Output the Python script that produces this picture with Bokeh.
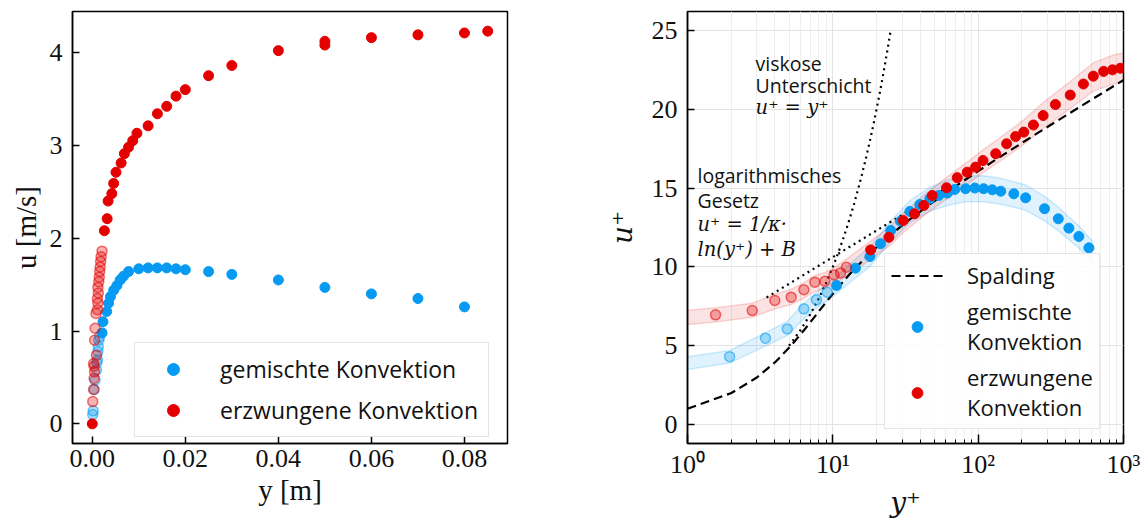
from bokeh.plotting import figure
from bokeh.models import (ColumnDataSource, FixedTicker, PrintfTickFormatter,
                          CustomJSTickFormatter, Label, Range1d)
from bokeh.layouts import row
from bokeh.embed import file_html
from bokeh.resources import INLINE

BLUE = "#069af3"
RED = "#e50000"

# ---------------- left panel: u over y ----------------
mixed_wall_y = [0.0001, 0.0002, 0.0004, 0.0006, 0.0009, 0.0010, 0.0011, 0.0012, 0.0013, 0.0014, 0.0016]
mixed_wall_u = [0.10, 0.14, 0.37, 0.47, 0.58, 0.66, 0.69, 0.78, 0.83, 0.90, 0.94]
mixed_y = [0.0021, 0.0023, 0.0031, 0.0035, 0.0039, 0.0046, 0.0053, 0.0060, 0.0067, 0.0078,
           0.010, 0.012, 0.014, 0.016, 0.018, 0.020, 0.025, 0.030, 0.040, 0.050, 0.060, 0.070, 0.080]
mixed_u = [0.98, 1.10, 1.21, 1.30, 1.37, 1.44, 1.49, 1.55, 1.59, 1.64,
           1.67, 1.68, 1.68, 1.68, 1.67, 1.66, 1.64, 1.61, 1.55, 1.47, 1.40, 1.35, 1.26]

forced_wall_y = [0.0001, 0.0003, 0.0004, 0.0005, 0.0004, 0.0003, 0.0009, 0.0005, 0.0006, 0.0008, 0.0011,
                 0.0012, 0.0011, 0.0013, 0.0012, 0.0014, 0.0015, 0.0016, 0.0017, 0.0018, 0.0019, 0.0021]
forced_wall_u = [0.24, 0.37, 0.49, 0.56, 0.62, 0.65, 0.74, 0.90, 1.03, 1.19, 1.23,
                 1.30, 1.35, 1.41, 1.47, 1.53, 1.58, 1.64, 1.69, 1.75, 1.80, 1.86]
forced_y = [0.0, 0.0026, 0.0032, 0.0034, 0.0042, 0.0046, 0.0051, 0.0062, 0.0069, 0.0078, 0.0087, 0.0096,
            0.012, 0.014, 0.016, 0.018, 0.020, 0.025, 0.030, 0.040, 0.050, 0.050, 0.060, 0.070, 0.080, 0.085]
forced_u = [0.0, 2.08, 2.21, 2.40, 2.48, 2.59, 2.71, 2.81, 2.91, 2.98, 3.05, 3.13,
            3.21, 3.34, 3.42, 3.53, 3.60, 3.75, 3.86, 4.02, 4.08, 4.12, 4.16, 4.19, 4.21, 4.23]

left_xticks = [0.0, 0.02, 0.04, 0.06, 0.08]
left_yticks = [0, 1, 2, 3, 4]

# ---------------- right panel: u+ over y+ ----------------
mixed_wall_yp = [1.95, 3.44, 4.86, 6.32, 7.72, 9.15]
mixed_wall_up = [4.31, 5.48, 6.07, 7.34, 7.91, 8.40]
mixed_yp = [10.6, 14.3, 18.0, 21.3, 25.0, 29.2, 33.9, 39.7, 46.5, 53.6, 61.3, 69.1, 81.9, 94.9,
            109, 125, 143, 176, 212, 286, 356, 421, 493, 578]
mixed_up = [8.82, 9.92, 10.66, 11.47, 12.31, 12.90, 13.52, 13.96, 14.32, 14.53, 14.68, 14.91, 14.96, 15.00,
            14.96, 14.89, 14.80, 14.64, 14.38, 13.69, 13.05, 12.46, 11.93, 11.21]

forced_wall_yp = [1.56, 2.79, 3.99, 5.17, 6.32, 7.52, 8.81, 10.2, 11.3, 12.4]
forced_wall_up = [6.96, 7.23, 7.87, 8.08, 8.55, 9.03, 9.09, 9.49, 9.62, 9.98]
forced_yp = [18.2, 24.3, 30.5, 36.5, 42.3, 48.3, 60.6, 71.8, 84.1, 96.0, 108, 132, 157, 181, 206,
             240, 280, 340, 430, 530, 620, 730, 840, 950]
forced_up = [11.08, 11.88, 12.94, 13.37, 13.90, 14.53, 15.02, 15.66, 16.01, 16.33, 16.75, 17.18, 17.81, 18.27, 18.55,
             19.0, 19.6, 20.3, 20.9, 21.6, 22.1, 22.4, 22.5, 22.6]

forced_band_yp = [1.0, 1.56, 2.79, 3.99, 5.17, 6.32, 7.52, 8.81, 10.2, 12.4, 18.2, 24.3, 30.5, 42.3,
                  60.6, 84.1, 108, 157, 206, 280, 430, 620, 840, 1000]
forced_band_mid = [6.8, 6.96, 7.25, 7.8, 8.1, 8.5, 8.95, 9.15, 9.45, 9.95, 11.05, 11.9, 12.8, 13.9,
                   15.0, 15.95, 16.7, 17.75, 18.55, 19.6, 20.9, 22.05, 22.5, 22.65]
forced_band_half = [0.45, 0.45, 0.45, 0.47, 0.48, 0.5, 0.5, 0.5, 0.52, 0.55, 0.58, 0.6, 0.62, 0.65,
                    0.68, 0.7, 0.72, 0.75, 0.78, 0.82, 0.86, 0.9, 0.92, 0.93]

mixed_band_yp = [1.0, 1.95, 3.44, 4.86, 6.32, 7.72, 9.15, 10.6, 14.3, 18.0, 25.0, 33.9, 46.5, 61.3,
                 81.9, 109, 143, 212, 286, 356, 421, 493, 578, 620]
mixed_band_mid = [3.9, 4.3, 5.4, 6.1, 7.2, 7.9, 8.4, 8.85, 9.9, 10.65, 12.25, 13.5, 14.3, 14.7,
                  14.95, 14.96, 14.8, 14.4, 13.7, 13.05, 12.45, 11.9, 11.2, 10.9]
mixed_band_half = [0.4, 0.4, 0.42, 0.45, 0.48, 0.5, 0.52, 0.55, 0.6, 0.62, 0.65, 0.7, 0.75, 0.8,
                   0.82, 0.82, 0.82, 0.8, 0.78, 0.75, 0.72, 0.7, 0.68, 0.66]

# Spalding law (kappa = 0.41, B = 5.0), tabulated
spalding_yp = [1.0002, 2.003, 3.016, 4.056, 5.152, 6.352, 7.015, 7.735, 8.53, 9.42, 10.43, 11.6, 12.95,
               14.55, 16.45, 18.72, 21.45, 24.76, 33.67, 46.98, 66.98, 97.1, 142.5, 211.2, 314.8,
               471.2, 707.4, 1063.7]
spalding_up = [1.0, 2.0, 3.0, 4.0, 5.0, 6.0, 6.5, 7.0, 7.5, 8.0, 8.5, 9.0, 9.5,
               10.0, 10.5, 11.0, 11.5, 12.0, 13.0, 14.0, 15.0, 16.0, 17.0, 18.0, 19.0,
               20.0, 21.0, 22.0]

# viscous sublayer u+ = y+
viscous_yp = [5, 6, 7, 8, 9, 10, 11, 12, 13, 14, 15, 16, 17, 18, 19, 20, 21, 22, 23, 24, 25]
viscous_up = [5, 6, 7, 8, 9, 10, 11, 12, 13, 14, 15, 16, 17, 18, 19, 20, 21, 22, 23, 24, 25]

# log law (straight line on log axis)
loglaw_yp = [3.5, 60.0]
loglaw_up = [8.06, 14.99]

right_yticks = [0, 5, 10, 15, 20, 25]
right_xticks = [1, 10, 100, 1000]
right_xminor = [m * d for d in (1, 10, 100) for m in range(2, 10)]

TICK_FONT = "Liberation Serif"
SANS = "Open Sans"


def style_axes(p):
    p.outline_line_color = "black"
    p.outline_line_width = 1.5
    p.outline_line_alpha = 1.0
    p.background_fill_color = "white"
    p.border_fill_color = "white"
    for ax in (p.xaxis[0], p.yaxis[0]):
        ax.major_tick_in = 7
        ax.major_tick_out = 0
        ax.minor_tick_in = 0
        ax.minor_tick_out = 0
        ax.axis_line_width = 1.5
        ax.axis_line_color = "black"
        ax.major_tick_line_width = 1.5
        ax.major_tick_line_color = "black"
        ax.major_label_text_font = TICK_FONT
        ax.major_label_text_font_size = "26px"
        ax.major_label_text_color = "#111111"
        ax.axis_label_text_color = "#111111"
        ax.axis_label_text_font_style = "normal"
    p.xaxis[0].major_label_standoff = 6
    p.yaxis[0].major_label_standoff = 10
    p.xaxis[0].axis_label_standoff = 4


# ---------------- left figure ----------------
p1 = figure(frame_width=435, frame_height=432,
            min_border_left=72, min_border_right=93, min_border_top=11, min_border_bottom=74,
            x_range=Range1d(-0.00425, 0.08925), y_range=Range1d(-0.2115, 4.4415),
            output_backend="svg", toolbar_location=None)
style_axes(p1)
p1.grid.visible = False
p1.xaxis[0].ticker = FixedTicker(ticks=left_xticks)
p1.xaxis[0].formatter = PrintfTickFormatter(format="%.2f")
p1.yaxis[0].ticker = FixedTicker(ticks=left_yticks)
p1.xaxis[0].axis_label = "y [m]"
p1.yaxis[0].axis_label = "u [m/s]"
for ax in (p1.xaxis[0], p1.yaxis[0]):
    ax.axis_label_text_font = TICK_FONT
    ax.axis_label_text_font_size = "29px"
p1.yaxis[0].axis_label_standoff = 5

src_mw = ColumnDataSource(dict(x=mixed_wall_y, y=mixed_wall_u))
src_m = ColumnDataSource(dict(x=mixed_y, y=mixed_u))
src_fw = ColumnDataSource(dict(x=forced_wall_y, y=forced_wall_u))
src_f = ColumnDataSource(dict(x=forced_y, y=forced_u))

p1.scatter("x", "y", source=src_mw, size=10, fill_color=BLUE, fill_alpha=0.3,
           line_color=BLUE, line_alpha=0.55, line_width=1.5)
p1.scatter("x", "y", source=src_m, size=10, fill_color=BLUE, line_color=BLUE,
           legend_label="gemischte Konvektion")
p1.scatter("x", "y", source=src_fw, size=10, fill_color=RED, fill_alpha=0.3,
           line_color=RED, line_alpha=0.55, line_width=1.5)
p1.scatter("x", "y", source=src_f, size=10, fill_color=RED, line_color=RED,
           legend_label="erzwungene Konvektion")

lg1 = p1.legend[0]
lg1.location = (62, 6)
lg1.margin = 0
lg1.padding = 10
lg1.spacing = 9
lg1.glyph_width = 56
lg1.glyph_height = 30
lg1.label_height = 30
lg1.label_standoff = 19
lg1.label_text_font = SANS
lg1.label_text_font_size = "23px"
lg1.label_text_color = "#111111"
lg1.border_line_color = "#cccccc"
lg1.border_line_width = 1.5
lg1.background_fill_alpha = 0.85

# ---------------- right figure ----------------
p2 = figure(frame_width=436, frame_height=432, x_axis_type="log",
            min_border_left=87, min_border_right=18, min_border_top=11, min_border_bottom=74,
            x_range=Range1d(1, 1000), y_range=Range1d(-1.2, 26.2),
            output_backend="svg", toolbar_location=None)
style_axes(p2)
p2.xaxis[0].ticker = FixedTicker(ticks=right_xticks, minor_ticks=right_xminor)
p2.xaxis[0].formatter = CustomJSTickFormatter(code="""
const sup = {"0": "\u2070", "1": "\u00b9", "2": "\u00b2", "3": "\u00b3"};
const e = Math.round(Math.log10(tick));
return "10" + (sup[String(e)] || String(e));
""")
p2.xaxis[0].major_tick_in = 9
p2.xaxis[0].minor_tick_in = 4
p2.xaxis[0].minor_tick_line_width = 1
p2.xaxis[0].minor_tick_line_color = "black"
p2.yaxis[0].ticker = FixedTicker(ticks=right_yticks)
p2.xgrid.grid_line_color = "#e3e3e3"
p2.xgrid.minor_grid_line_color = "#eeeeee"
p2.ygrid.grid_line_color = "#e3e3e3"
p2.xaxis[0].axis_label = "y\u207a"
p2.yaxis[0].axis_label = "u\u207a"
for ax in (p2.xaxis[0], p2.yaxis[0]):
    ax.axis_label_text_font = "DejaVu Serif"
    ax.axis_label_text_font_style = "italic"
    ax.axis_label_text_font_size = "28px"
p2.yaxis[0].axis_label_standoff = 10

fb_lo = [m - h for m, h in zip(forced_band_mid, forced_band_half)]
fb_hi = [m + h for m, h in zip(forced_band_mid, forced_band_half)]
mb_lo = [m - h for m, h in zip(mixed_band_mid, mixed_band_half)]
mb_hi = [m + h for m, h in zip(mixed_band_mid, mixed_band_half)]
src_fb = ColumnDataSource(dict(x=forced_band_yp, lo=fb_lo, hi=fb_hi))
src_mb = ColumnDataSource(dict(x=mixed_band_yp, lo=mb_lo, hi=mb_hi))

p2.varea(x="x", y1="lo", y2="hi", source=src_mb, fill_color=BLUE, fill_alpha=0.13)
p2.line("x", "lo", source=src_mb, line_color=BLUE, line_alpha=0.18, line_width=1.5)
p2.line("x", "hi", source=src_mb, line_color=BLUE, line_alpha=0.18, line_width=1.5)
p2.varea(x="x", y1="lo", y2="hi", source=src_fb, fill_color=RED, fill_alpha=0.11)
p2.line("x", "lo", source=src_fb, line_color=RED, line_alpha=0.15, line_width=1.5)
p2.line("x", "hi", source=src_fb, line_color=RED, line_alpha=0.15, line_width=1.5)

p2.line(viscous_yp, viscous_up, line_color="black", line_width=2.2, line_dash="2 4")
p2.line(loglaw_yp, loglaw_up, line_color="black", line_width=2.2, line_dash="2 4")
p2.line(spalding_yp, spalding_up, line_color="black", line_width=2.2, line_dash="9 5",
        legend_label="Spalding")

src_mw2 = ColumnDataSource(dict(x=mixed_wall_yp, y=mixed_wall_up))
src_m2 = ColumnDataSource(dict(x=mixed_yp, y=mixed_up))
src_fw2 = ColumnDataSource(dict(x=forced_wall_yp, y=forced_wall_up))
src_f2 = ColumnDataSource(dict(x=forced_yp, y=forced_up))

p2.scatter("x", "y", source=src_mw2, size=10, fill_color=BLUE, fill_alpha=0.3,
           line_color=BLUE, line_alpha=0.55, line_width=1.5)
p2.scatter("x", "y", source=src_m2, size=10, fill_color=BLUE, line_color=BLUE,
           legend_label="gemischte\nKonvektion")
p2.scatter("x", "y", source=src_fw2, size=10, fill_color=RED, fill_alpha=0.3,
           line_color=RED, line_alpha=0.55, line_width=1.5)
p2.scatter("x", "y", source=src_f2, size=10, fill_color=RED, line_color=RED,
           legend_label="erzwungene\nKonvektion")

lg2 = p2.legend[0]
lg2.location = (197, 14)
lg2.margin = 0
lg2.padding = 6
lg2.spacing = 6
lg2.glyph_width = 52
lg2.glyph_height = 27
lg2.label_height = 27
lg2.label_standoff = 24
lg2.label_text_font = SANS
lg2.label_text_font_size = "22px"
lg2.label_text_color = "#111111"
lg2.border_line_color = "#cccccc"
lg2.border_line_width = 1.5
lg2.background_fill_alpha = 0.85

# annotations
annotations = [
    ("viskose", 2.94, 22.91, SANS, "normal"),
    ("Unterschicht", 2.94, 21.51, SANS, "normal"),
    ("u\u207a = y\u207a", 2.94, 20.11, "DejaVu Serif", "italic"),
    ("logarithmisches", 1.172, 15.80, SANS, "normal"),
    ("Gesetz", 1.172, 14.24, SANS, "normal"),
    ("u\u207a = 1/\u03ba\u00b7", 1.172, 12.69, "DejaVu Serif", "italic"),
    ("ln(y\u207a) + B", 1.172, 11.13, "DejaVu Serif", "italic"),
]
for txt, ax_, ay_, fnt, sty in annotations:
    p2.add_layout(Label(x=ax_, y=ay_, text=txt, text_font=fnt, text_font_style=sty,
                        text_font_size="19.5px", text_color="#111111",
                        text_align="left", text_baseline="alphabetic"))

layout = row(p1, p2)
open("out.html", "w").write(file_html(layout, INLINE))
